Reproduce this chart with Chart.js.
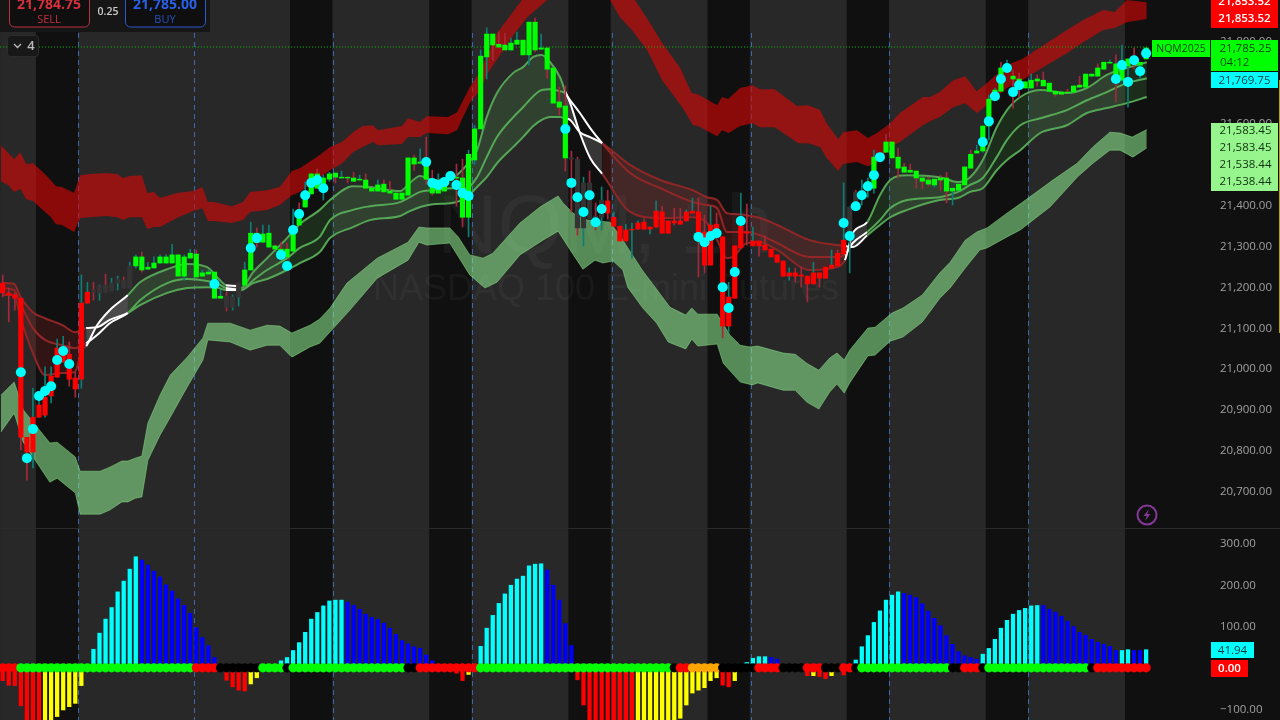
<!DOCTYPE html>
<html><head><meta charset="utf-8">
<style>html,body{margin:0;padding:0;background:#101010;overflow:hidden}canvas{display:block}</style>
<script src="https://cdn.jsdelivr.net/npm/chart.js@4/dist/chart.umd.min.js"></script>
</head><body><canvas id="c" width="1280" height="720"></canvas>
<script>
// ---- candles (index = bar number)
const bodyHi=[21208,21184,21179,21171,20831,20880,20910,20929,20981,21049,21049,21034,20976,21159,21186,21191,21201,21203,21208,21218,21215,21250,21272,21272,21247,21257,21272,21272,21277,21277,21272,21281,21279,21233,21235,21235,21176,21176,21174,21208,21240,21330,21330,21328,21330,21299,21291,21291,21340,21387,21431,21475,21475,21465,21475,21477,21467,21467,21465,21462,21460,21440,21448,21450,21433,21428,21428,21514,21514,21504,21497,21443,21438,21445,21465,21467,21465,21523,21585,21763,21817,21817,21792,21790,21795,21802,21802,21846,21846,21783,21783,21734,21651,21641,21514,21511,21453,21453,21372,21411,21409,21369,21347,21338,21340,21355,21357,21345,21384,21382,21360,21360,21360,21382,21384,21382,21333,21350,21352,21321,21174,21299,21347,21333,21311,21311,21301,21291,21277,21262,21233,21233,21228,21225,21233,21233,21247,21252,21281,21313,21394,21431,21435,21455,21516,21521,21553,21553,21516,21492,21484,21482,21465,21460,21462,21465,21465,21440,21450,21492,21523,21531,21592,21658,21680,21734,21739,21714,21707,21700,21704,21707,21704,21697,21677,21675,21675,21690,21692,21719,21719,21734,21748,21748,21744,21748,21756,21758,21748,21783];
const bodyLo=[21184,21179,21171,20831,20795,20795,20880,20885,20932,20978,21015,20973,20949,20973,21159,21186,21184,21186,21189,21208,21196,21196,21250,21240,21242,21245,21257,21257,21257,21225,21225,21269,21223,21225,21230,21171,21171,21149,21149,21174,21203,21240,21308,21308,21296,21291,21269,21272,21286,21350,21394,21426,21440,21448,21462,21467,21465,21465,21457,21460,21440,21433,21433,21431,21428,21413,21413,21423,21499,21501,21462,21428,21428,21433,21460,21465,21369,21369,21509,21585,21761,21790,21785,21778,21778,21792,21766,21766,21778,21780,21731,21648,21638,21514,21511,21343,21343,21365,21369,21369,21379,21347,21311,21311,21338,21340,21340,21340,21345,21330,21330,21355,21352,21360,21379,21321,21252,21252,21330,21103,21103,21171,21294,21330,21299,21299,21289,21272,21259,21225,21225,21225,21225,21206,21206,21220,21220,21245,21250,21279,21318,21394,21418,21435,21440,21509,21528,21514,21489,21479,21479,21465,21457,21450,21448,21460,21433,21433,21435,21448,21489,21526,21531,21592,21658,21677,21729,21707,21695,21685,21685,21702,21690,21677,21670,21670,21673,21675,21687,21687,21714,21714,21731,21746,21707,21704,21739,21748,21741,21756];
const wickHi=[21228,21196,21184,21171,20831,20951,20934,21003,21003,21071,21078,21064,20990,21228,21210,21210,21203,21230,21220,21225,21223,21259,21277,21284,21259,21272,21277,21277,21303,21277,21277,21291,21289,21240,21240,21235,21191,21186,21179,21208,21259,21357,21343,21350,21350,21301,21308,21306,21389,21404,21455,21475,21487,21472,21479,21477,21482,21467,21479,21472,21475,21440,21460,21460,21457,21428,21428,21514,21521,21536,21565,21484,21475,21465,21479,21499,21511,21533,21594,21778,21832,21817,21822,21819,21807,21822,21802,21846,21856,21817,21783,21734,21687,21690,21531,21516,21467,21482,21404,21443,21435,21382,21347,21352,21355,21360,21365,21345,21409,21396,21360,21391,21391,21387,21416,21416,21374,21396,21379,21321,21210,21299,21428,21401,21345,21311,21323,21291,21277,21262,21245,21245,21247,21225,21259,21233,21247,21289,21289,21453,21394,21435,21460,21465,21533,21526,21572,21553,21538,21501,21499,21482,21465,21467,21462,21472,21479,21440,21450,21492,21533,21545,21592,21668,21685,21748,21753,21729,21722,21700,21719,21717,21724,21697,21677,21675,21682,21690,21714,21719,21719,21744,21748,21753,21766,21790,21756,21783,21748,21783];
const wickLo=[21174,21113,21142,20800,20726,20756,20880,20880,20915,20978,21015,20956,20929,20951,21159,21166,21166,21186,21189,21191,21196,21196,21245,21235,21242,21245,21257,21257,21257,21225,21215,21269,21223,21225,21230,21171,21171,21140,21142,21152,21203,21240,21296,21308,21296,21291,21269,21272,21286,21350,21394,21426,21440,21411,21457,21453,21465,21453,21457,21460,21440,21433,21433,21431,21428,21413,21413,21423,21484,21501,21450,21423,21428,21433,21460,21396,21345,21321,21497,21585,21707,21753,21785,21778,21778,21792,21766,21741,21773,21780,21709,21648,21619,21482,21382,21325,21299,21365,21338,21338,21365,21347,21311,21311,21269,21340,21340,21328,21345,21330,21330,21350,21352,21360,21379,21223,21233,21252,21330,21074,21088,21171,21294,21301,21299,21274,21289,21272,21259,21225,21215,21210,21198,21162,21206,21198,21220,21245,21250,21279,21233,21394,21399,21418,21428,21509,21528,21514,21465,21479,21479,21440,21438,21445,21443,21435,21404,21399,21435,21448,21489,21526,21528,21558,21658,21677,21729,21636,21663,21685,21685,21690,21690,21677,21665,21668,21673,21675,21687,21687,21714,21714,21731,21746,21651,21704,21638,21731,21709,21756];
const bodyStates='R'.repeat(15)+'D'.repeat(7)+'G'.repeat(15)+'DDD'+'G'.repeat(54)+'D'.repeat(6)+'R'.repeat(40)+'DDD'+'G'.repeat(47);
const wickStates='rrrrrttttt'+'trrttrtrtt'+'rttrtttttr'+'ttrttttrtt'+'ttrttrrrtr'+'ttrttrtrrt'+'rttrrtttrt'+'rrtttrrttt'+'trrrttrtrt'+'rrrrrrtrrt'+'rtrtttrttr'+'rrrttrrtrr'+'trtrtrrrrr'+'trrrtrrtrt'+'trttttrrrr'+'rrrrtrrttt'+'rttttrtrrt'+'trrtrrrtrt'+'trttrttrtt';
// ---- cyan signal dots
const dotBar=[3,4,5,6,7,8,9,10,11,35,41,42,46,47,48,49,50,51,52,53,70,71,72,73,74,75,76,77,93,94,95,96,97,98,99,115,116,117,118,119,120,121,122,139,140,141,142,143,144,145,162,163,164,165,166,167,168,184,185,186,187,188,189];
const dotPrice=[20990,20780,20851,20932,20944,20956,21020,21042,21010,21206,21294,21318,21277,21250,21338,21377,21423,21453,21460,21440,21504,21453,21448,21455,21470,21448,21428,21421,21585,21453,21418,21382,21423,21357,21389,21321,21308,21323,21330,21198,21147,21235,21360,21355,21323,21396,21423,21445,21472,21516,21553,21604,21665,21707,21734,21675,21692,21707,21741,21700,21753,21726,21769.75];
// ---- red envelope band
const redTopBar=[-0.3,1.9,2.9,3.9,5,6.8,7.8,8.8,9.8,11.8,12.8,14.4,17.2,18.9,19.9,21,23,23.9,25,26,28.8,31.5,33,33.9,34.9,37.9,39.7,40.9,43.7,45.8,47.8,49.1,52.4,54.1,56.1,57.9,59.5,61.2,62,66,67,69,70.1,73.6,75.1,76.1,77.2,78.9,81.7,85.8,92.1,97.1,100.4,104.5,107,109,112,112.9,113.9,114.9,118.1,118.9,119.9,121.9,123.9,125.2,127.6,131.3,133.1,135.1,136.2,138.1,138.9,141.2,143,144.5,146.7,148.3,152.1,153.3,154.9,157.1,159.1,161,162.7,166,168.5,172.6,175.9,178.6,181.9,183.8,185.8,189.1];
const redTop=[21545,21511,21528,21499,21501,21477,21462,21445,21443,21428,21472,21475,21477,21475,21465,21470,21472,21428,21431,21416,21428,21433,21443,21406,21406,21396,21406,21431,21435,21443,21482,21489,21521,21541,21553,21577,21592,21594,21582,21592,21611,21602,21616,21614,21626,21655,21687,21724,21819,21900,22010,21998,21949,21900,21844,21795,21734,21704,21673,21670,21643,21663,21658,21685,21692,21682,21682,21641,21643,21631,21599,21560,21577,21582,21563,21575,21599,21624,21663,21663,21675,21704,21714,21677,21697,21741,21756,21795,21827,21851,21876,21871,21900,21895];
const redBotBar=[-0.3,0.9,1.9,2.9,3.9,5,6.8,7.8,8.8,9.8,11.8,12.8,14.4,17.2,18.9,19.9,21,23,23.9,25,26,28.8,31.5,33,33.9,34.9,37.9,39.7,40.9,43.7,45.8,47.8,49.1,52.4,54.1,56.1,57.9,59.5,61.2,62,66,67,69,70.1,73.6,75.1,76.1,77.2,78.9,80,82.2,84.4,86.7,90,93.8,97.1,100.4,102,104,106.5,109,112.4,114.1,114.9,118.1,118.9,120,121.9,123.9,125.2,127.6,131.5,133.1,135.1,136.2,138.1,138.9,141.2,143,144.5,146.7,148.3,152.1,153.3,154.9,157.1,159.1,161,162.7,166,168.5,172.6,175.9,178.6,181.9,183.8,185.8,189.1];
const redBot=[21457,21448,21431,21438,21413,21409,21384,21372,21352,21350,21333,21367,21369,21372,21369,21362,21369,21369,21340,21345,21345,21367,21384,21391,21360,21360,21355,21362,21382,21387,21399,21423,21431,21465,21484,21501,21528,21541,21553,21545,21548,21565,21565,21575,21572,21582,21614,21648,21680,21717,21766,21814,21858,21900,21961,21937,21900,21858,21827,21778,21704,21636,21594,21592,21567,21582,21575,21592,21599,21589,21589,21550,21550,21541,21514,21482,21499,21504,21494,21501,21541,21553,21594,21604,21614,21638,21648,21624,21643,21685,21704,21741,21770,21797,21827,21832,21846,21853.52];
// ---- green envelope band
const greenTopBar=[-0.3,1.9,3.4,7.8,9,12,12.8,16.1,17.7,19.7,20.7,21.9,23,24,26,27.7,30.5,33.1,33.9,37.6,40.9,43.7,45.8,47.8,50.8,52.4,54.1,56.9,61.9,67,68.8,70.1,73.9,75.3,77.2,79.4,81,85.5,88.8,91.8,92.6,94.3,96.6,100.4,102.5,105.7,110.3,112.9,113.9,114.9,118.1,120.2,121.9,123.5,124.8,129,131,132.9,134.9,136.7,137.9,139.1,140,143,144.2,147,148.8,152,154.9,156.6,159.1,161,162.7,166,168.6,173.6,177.6,180.2,183,184.7,186.7,189.1];
const greenTop=[20934,20966,20898,20817,20819,20783,20748,20748,20758,20773,20773,20780,20785,20866,20934,20983,21027,21074,21110,21110,21093,21105,21103,21086,21105,21120,21147,21208,21269,21308,21345,21343,21343,21321,21277,21269,21281,21355,21394,21421,21404,21379,21362,21357,21313,21240,21149,21130,21147,21132,21132,21081,21056,21052,21054,21037,21034,21012,20995,21025,21037,21020,21044,21098,21100,21135,21147,21179,21233,21259,21313,21333,21343,21379,21406,21460,21501,21541,21577,21575,21565,21583.45];
const greenBotBar=[-0.3,1.9,3.4,7.8,9,12,12.8,16.1,17.7,19.7,20.7,21.9,23,24,26,27.7,30.5,33.1,33.9,37.6,40.9,43.7,45.8,47.8,50.8,52.4,57.4,61.9,67,68.8,70.1,73.9,77.2,79.7,81.7,85.5,89.3,91.8,93.8,95.9,97.9,99.2,100.9,102.5,103.3,105.8,108.1,110,112.9,113.9,114.9,118.1,119.1,121.9,123.9,124.8,129,131,132.9,134.9,136.7,137.9,139.1,140,143,144.2,146.7,148.8,152,154.9,156.6,159.1,161.5,162.7,166,168.2,173.1,177.6,180.2,183,184.7,186.8,189.1];
const greenBot=[20844,20890,20819,20721,20731,20695,20643,20643,20653,20673,20673,20682,20685,20775,20836,20880,20954,21020,21069,21064,21044,21056,21056,21027,21052,21061,21142,21220,21264,21308,21301,21306,21228,21196,21210,21277,21313,21335,21289,21242,21264,21257,21262,21240,21198,21147,21110,21064,21047,21071,21054,21059,21012,20966,20959,20964,20946,20946,20917,20900,20942,20961,20939,20964,21030,21032,21066,21076,21113,21171,21196,21245,21289,21294,21321,21338,21394,21467,21501,21533,21533,21516,21538.44];
// ---- moving average ribbon
const maBar=[-0.1,1.9,2.9,5,7,9.9,11.9,13.1,13.8,15.6,17.7,20.7,22.7,27.2,30.5,33.8,35.6,36.9,38.7,39.4,41.4,43.7,47,49.1,52.4,54.1,57.9,60.7,65.7,67.3,69,71.1,74.3,76.7,78.4,80,81.7,84.4,86,87.7,89.1,90.5,92.1,92.9,93.8,95.4,97.1,99.1,103.7,108.7,114.1,116.4,118.1,119.7,120.7,123,125.2,128,133.4,137.9,139.2,140.5,142.9,145,146.7,149.5,154.9,157.9,159.9,162,164.3,166,168.2,171.5,175.9,179.2,182.5,185.8,189.1];
const maFast=[21179,21179,21125,21037,20983,20988,20990,21044,21054,21105,21142,21179,21210,21242,21255,21247,21220,21203,21201,21196,21235,21269,21318,21352,21387,21411,21445,21443,21433,21453,21470,21460,21465,21497,21533,21614,21673,21722,21736,21761,21766,21748,21712,21680,21648,21575,21514,21475,21382,21367,21369,21355,21313,21269,21272,21306,21308,21289,21240,21247,21264,21330,21357,21423,21460,21472,21467,21455,21467,21509,21589,21631,21663,21680,21673,21685,21717,21734,21748];
const maMid=[21196,21191,21159,21098,21069,21056,21049,21056,21061,21081,21110,21135,21166,21208,21218,21213,21206,21196,21193,21191,21215,21240,21269,21294,21321,21362,21387,21396,21406,21418,21431,21435,21440,21440,21467,21516,21565,21614,21638,21665,21680,21682,21677,21673,21655,21624,21587,21550,21477,21440,21406,21399,21391,21333,21333,21333,21325,21306,21272,21272,21277,21306,21333,21362,21391,21411,21418,21431,21448,21465,21516,21558,21594,21611,21631,21655,21675,21697,21709];
const maSlow=[21208,21206,21176,21137,21122,21105,21088,21093,21098,21100,21118,21135,21154,21184,21196,21198,21196,21191,21191,21191,21208,21218,21240,21257,21284,21318,21345,21362,21372,21384,21394,21401,21404,21418,21443,21467,21501,21541,21565,21592,21607,21614,21614,21611,21607,21577,21565,21550,21497,21460,21435,21418,21411,21379,21377,21374,21367,21350,21313,21301,21299,21296,21325,21350,21369,21387,21411,21416,21431,21440,21484,21509,21533,21575,21594,21624,21636,21648,21663];
const maStates='R'.repeat(8)+'WWW'+'G'.repeat(6)+'W'+'G'.repeat(25)+'WWWW'+'R'.repeat(13)+'WW'+'G'.repeat(17);
// ---- lower pane oscillator
const histValues=[-33,-44,-45,-94,-135,-145,-150,-145,-130,-120,-104,-96,-88,-45,0,43,82,116,144,182,208,237,267,259,247,232,218,199,184,165,149,130,95,71,52,23,0,-32,-48,-56,-58,-41,-26,0,0,0,15,23,40,59,84,116,132,148,160,162,162,157,149,140,128,120,115,106,94,79,64,56,49,45,29,15,0,0,0,-15,-33,-18,0,50,94,125,154,177,198,213,220,245,249,250,235,198,162,105,52,-31,-92,-140,-165,-185,-200,-210,-215,-210,-205,-195,-185,-175,-165,-155,-145,-135,-124,-92,-63,-56,-50,-33,-26,-44,-48,-33,0,11,21,25,25,23,19,0,0,0,-3,-21,-21,-23,-28,-21,0,-19,0,17,49,76,108,136,162,174,182,178,174,168,153,135,118,100,76,55,37,27,23,19,31,45,67,94,113,128,137,142,148,149,149,140,133,123,111,98,84,77,67,60,55,50,40,40,42,40,40,41.94];
const histStates='r'.repeat(7)+'y'.repeat(7)+'c'.repeat(9)+'b'.repeat(13)+'c'+'rrrr'+'yy'+'c'.repeat(14)+'b'.repeat(18)+'rr'+'y'+'c'.repeat(12)+'b'.repeat(5)+'r'.repeat(10)+'y'.repeat(14)+'rr'+'y'+'c'.repeat(5)+'bb'+'ccc'+'rr'+'y'+'rr'+'y'+'c'+'r'+'c'+'c'.repeat(8)+'b'.repeat(13)+'c'.repeat(10)+'b'.repeat(13)+'cc'+'bb'+'c';
const zeroStates='rrr'+'g'.repeat(29)+'rrrr'+'k'.repeat(7)+'gggg'+'k'+'g'.repeat(19)+'kk'+'r'.repeat(10)+'g'.repeat(32)+'k'+'rr'+'ooooo'+'k'.repeat(6)+'rrrr'+'kkkk'+'rrr'+'kkk'+'rr'+'k'+'g'.repeat(15)+'kk'+'rrr'+'k'+'g'.repeat(17)+'k'+'r'.repeat(9);
const zeroDotLevel=-2;
// ---- axes / sessions / labels
const priceTicks=[21800,21600,21400,21300,21200,21100,21000,20900,20800,20700];
const histTicks=[300,200,100,-100];
const sessionDark=[[5.5,12.5],[47.5,54.5],[70.5,77.5],[93.5,100.5],[116.5,123.5],[139.5,146.5],[162.5,169.5],[185.5,210]];
const daySeparators=[12.5,31.6,54.6,77.5,100.7,123.7,146.5,169.5];
const lastPrice=21785.25, contractName='NQM2025', countdown='04:12', bandHigh=21853.52, signalLast=21769.75;
const greenLevels=[21583.45,21583.45,21538.44,21538.44], histLast=41.94, zeroLast=0;
const sellPrice='21,784.75', buyPrice='21,785.00', spread='0.25', layoutCount='4';
const wmTitle='NQM, 1h', wmSub='NASDAQ 100 E-mini Futures';

const COL={R:'#ff0000',G:'#00ff00',D:'#333333',r:'#a32a3c',t:'#0e7d72'};
const HC={r:'#ff0000',y:'#ffff00',c:'#00ffff',b:'#0000ff'};
const ZC={r:'#ff0000',g:'#00ff00',k:'#000000',o:'#ffa500'};
const LINE={R:'#8e2626',G:'#55a455',W:'#ffffff'};
const FILL={R:'rgba(170,40,40,0.22)',G:'rgba(90,190,90,0.17)',W:'rgba(255,255,255,0.16)'};
const pts=(xs,ys)=>xs.map((x,i)=>({x,y:ys[i]}));
const bars=bodyHi.map((_,i)=>i);
const UI='"Open Sans",sans-serif';
const fmt=v=>(v<0?'\u2212':'')+Math.abs(v).toLocaleString('en-US',{minimumFractionDigits:2,maximumFractionDigits:2});

const bandOpts=(color,border)=>({type:'line',yAxisID:'y',pointRadius:0,tension:0,borderWidth:border?1:0,borderColor:border||'transparent',backgroundColor:color,order:60});
const maOpts={type:'line',yAxisID:'y',pointRadius:0,borderWidth:2,cubicInterpolationMode:'monotone',order:50,
  segment:{borderColor:c=>LINE[maStates[c.p0DataIndex]],backgroundColor:c=>FILL[maStates[c.p0DataIndex]]}};

const paneBg={id:'paneBg',
 beforeDraw(ch){const g=ch.ctx;g.save();g.fillStyle='#101010';g.fillRect(0,0,1280,720);g.restore();},
 beforeDatasetsDraw(ch){
  const g=ch.ctx,x=ch.scales.x,H=ch.height,R=ch.chartArea.right;
  g.save();
  g.fillStyle='#282828';g.fillRect(0,0,R,H);
  g.fillStyle='#101010';
  sessionDark.forEach(([a,b])=>{const l=x.getPixelForValue(a),r=Math.min(x.getPixelForValue(b),R);g.fillRect(l,0,r-l,H);});
  g.fillStyle='#262626';g.fillRect(0,0,2,H);
  // watermark
  g.fillStyle='rgba(255,255,255,0.04)';g.textAlign='center';g.textBaseline='alphabetic';
  g.font='84px "Liberation Sans"';g.fillText(wmTitle,605,253);
  g.font='36px "Liberation Sans"';g.fillText(wmSub,606,300);
  // separators
  g.strokeStyle='#3a68ad';g.lineWidth=1;g.setLineDash([5,4]);
  daySeparators.forEach(b=>{const p=Math.round(x.getPixelForValue(b))+0.5;g.beginPath();g.moveTo(p,33);g.lineTo(p,720);g.stroke();});
  g.setLineDash([]);
  // pane divider
  g.strokeStyle='#2b2b2b';g.beginPath();g.moveTo(0,528.5);g.lineTo(1280,528.5);g.stroke();
  g.restore();
 },
 afterDraw(ch){
  const g=ch.ctx;
  const TAGF='600 11.5px '+UI;
  const tag=(l,t,w,h,bg,fg,txt,font)=>{g.fillStyle=bg;g.fillRect(l,t,w,h);
    if(txt===undefined)return;g.fillStyle=fg;g.font=font||TAGF;g.textAlign='center';g.textBaseline='middle';g.fillText(txt,l+w/2,t+h/2+0.5);};
  g.save();
  tag(1211,-7,67,16,'#ff0000','#fff',fmt(bandHigh));
  tag(1211,9,67,19,'#ff0000','#fff',fmt(bandHigh));
  tag(1152,40,58,17,'#00ff00','#073b07',contractName,'500 10.5px '+UI);
  tag(1211,40,67,31,'#00ff00','#0a3a0a');
  g.fillStyle='#0a3a0a';g.font='500 11.5px '+UI;g.textAlign='center';g.textBaseline='middle';
  g.fillText(fmt(lastPrice),1245.5,48.5);g.font='11.5px '+UI;g.fillStyle='#0c4a0c';g.textAlign='left';g.fillText(countdown,1220,62.5);
  tag(1211,72,67,16,'#00ffff','#0b3a3a',fmt(signalLast),'500 11.5px '+UI);
  tag(1211,123,67,68,'#97f58d','#123');
  g.fillStyle='#10300f';g.font='500 11.5px '+UI;g.textAlign='center';
  [131,148,165,182].forEach((t,i)=>g.fillText(fmt(greenLevels[i]),1245.5,t));
  tag(1211,642,43,16,'#00ffff','#0b3a3a',fmt(histLast),'500 11.5px '+UI);
  tag(1211,660,37,17,'#ff0000','#fff',fmt(zeroLast));
  // right edge marker
  g.fillStyle='#b8a400';g.fillRect(1279,80,1,253);
  // lightning badge
  g.strokeStyle='#86389a';g.lineWidth=2;g.beginPath();g.arc(1147,515,9.5,0,Math.PI*2);g.stroke();
  g.fillStyle='#86389a';g.beginPath();g.moveTo(1149,509);g.lineTo(1143.5,516);g.lineTo(1146.8,516);g.lineTo(1145,521);g.lineTo(1150.5,514);g.lineTo(1147.2,514);g.closePath();g.fill();
  // order ticket
  g.fillStyle='#161616';g.fillRect(0,0,210,32);
  const box=(l,w,col)=>{g.fillStyle='#0f0f0f';g.strokeStyle=col;g.lineWidth=1;g.beginPath();g.roundRect(l+.5,-6,w,33,5);g.fill();g.stroke();};
  box(9,80,'#b8313f');box(125,80,'#2a58d0');
  g.textAlign='center';g.textBaseline='middle';
  g.font='700 14px '+UI;g.fillStyle='#d8303f';g.fillText(sellPrice,49,5);
  g.fillStyle='#2a5fe8';g.fillText(buyPrice,165,5);
  g.font='11px '+UI;g.fillStyle='#c4303d';g.fillText('SELL',49,19.5);
  g.fillStyle='#2a52c0';g.fillText('BUY',165,19.5);
  g.font='600 10.5px '+UI;g.fillStyle='#cccccc';g.fillText(spread,108,12);
  // collapsed indicator count
  g.fillStyle='#181818';g.strokeStyle='#2c2c2c';g.beginPath();g.roundRect(7.5,35.5,31,21,3);g.fill();g.stroke();
  g.strokeStyle='#bbbbbb';g.lineWidth=1.3;g.beginPath();g.moveTo(14,44);g.lineTo(17.5,47.5);g.lineTo(21,44);g.stroke();
  g.font='600 13px '+UI;g.fillStyle='#bbbbbb';g.fillText(layoutCount,31,46);
  g.restore();
 }};

const fitAxis=s=>{s.width=70;s.paddingTop=0;s.paddingBottom=0;s.paddingLeft=0;s.paddingRight=0;};
const tickOpts={autoSkip:false,maxRotation:0,padding:10,labelOffset:1,color:'#a0a0a0',font:{family:'"Open Sans"',size:11.5},callback:v=>fmt(v)};
new Chart(document.getElementById('c'),{
 type:'bar',
 plugins:[paneBg],
 data:{datasets:[
  {...bandOpts('rgba(220,5,5,0.6)'),data:pts(redTopBar,redTop),fill:{target:1}},
  {...bandOpts('rgba(220,5,5,0.6)'),data:pts(redBotBar,redBot),fill:false},
  {...bandOpts('rgba(144,238,144,0.55)','rgba(144,238,144,0.45)'),data:pts(greenTopBar,greenTop),fill:{target:3}},
  {...bandOpts('rgba(144,238,144,0.55)','rgba(144,238,144,0.45)'),data:pts(greenBotBar,greenBot),fill:false},
  {...maOpts,data:pts(maBar,maFast),fill:{target:6}},
  {...maOpts,data:pts(maBar,maMid),fill:false},
  {...maOpts,data:pts(maBar,maSlow),fill:false},
  {type:'line',yAxisID:'y',data:[{x:-0.45,y:lastPrice},{x:189.4,y:lastPrice}],borderColor:'#00c000',borderWidth:1,borderDash:[1,2],pointRadius:0,fill:false,order:45},
  {type:'bar',yAxisID:'y',stack:'a',barThickness:1,data:bars.map(i=>({x:i,y:[wickLo[i],wickHi[i]]})),backgroundColor:bars.map(i=>COL[wickStates[i]]),order:40},
  {type:'bar',yAxisID:'y',stack:'a',barThickness:4.5,data:bars.map(i=>({x:i,y:[bodyLo[i],bodyHi[i]]})),backgroundColor:bars.map(i=>COL[bodyStates[i]]),order:30},
  {type:'line',yAxisID:'y',showLine:false,data:pts(dotBar,dotPrice),pointRadius:5,pointBorderWidth:0,pointBackgroundColor:'#00ffff',fill:false,order:10},
  {type:'bar',yAxisID:'m',stack:'a',barThickness:3.6,data:bars.map(i=>({x:i,y:histValues[i]})),backgroundColor:bars.map(i=>HC[histStates[i]]),order:40},
  {type:'line',yAxisID:'m',showLine:false,data:bars.map(i=>({x:i,y:zeroDotLevel})),pointRadius:4.6,pointBorderWidth:0,pointBackgroundColor:bars.map(i=>ZC[zeroStates[i]]),fill:false,order:10}
 ]},
 options:{
  responsive:false,animation:false,devicePixelRatio:1,
  layout:{padding:0,autoPadding:false},
  plugins:{legend:{display:false},tooltip:{enabled:false},title:{display:false}},
  events:[],
  scales:{
   x:{type:'linear',display:false,stacked:true,min:-0.446,max:199.554,offset:false,grid:{display:false}},
   y:{position:'right',stack:'panes',stackWeight:528,weight:1,stacked:false,min:20609.2,max:21900.2,
      afterFit:fitAxis,
      afterBuildTicks(s){s.ticks=priceTicks.map(value=>({value}));},
      grid:{display:false,drawTicks:false},border:{display:false},ticks:tickOpts},
   m:{position:'right',stack:'panes',stackWeight:192,weight:1,stacked:false,min:-128.3,max:336.6,
      afterFit:fitAxis,
      afterBuildTicks(s){s.ticks=histTicks.map(value=>({value}));},
      grid:{display:false,drawTicks:false},border:{display:false},ticks:tickOpts}
  }
 }
});
</script></body></html>
